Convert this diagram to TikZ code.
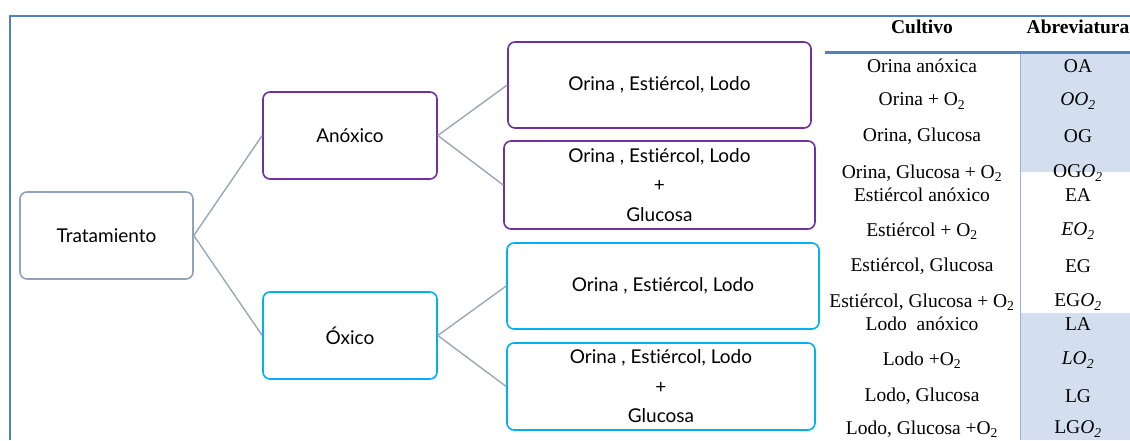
\documentclass[tikz,border=0pt]{standalone}
\usepackage{fontspec}
\setmainfont{Liberation Serif}
\newfontfamily\boxfont[Ligatures=NoCommon]{Lato}
\usetikzlibrary{positioning}

\definecolor{framecol}{HTML}{4F81BD}
\definecolor{anoxcol}{HTML}{7030A0}
\definecolor{oxicol}{HTML}{00B0F0}
\definecolor{tratcol}{HTML}{8EA4BC}
\definecolor{linkcol}{HTML}{98A8B8}
\definecolor{shadecol}{HTML}{D3DFEE}
\definecolor{gridcol}{HTML}{95B3D7}

\newcommand{\oxtwo}{O\textsubscript{2}}
\newcommand{\oxit}{\textit{O}\textsubscript{\textit{2}}}

\tikzset{
  treebox/.style={draw, rounded corners=7pt, line width=1.6pt, align=center,
    inner sep=0pt, font=\boxfont\fontsize{19}{29.5}\selectfont},
  link/.style={draw=linkcol, line width=1.4pt},
  celltext/.style={inner sep=0pt, font=\fontsize{19.5}{22}\selectfont},
  headtext/.style={inner sep=0pt, font=\bfseries\fontsize{19.5}{22}\selectfont},
}

\begin{document}
\begin{tikzpicture}[x=1pt,y=-1pt]
  \useasboundingbox (0,0) rectangle (1130,440);

  % table shading and rules
  \fill[shadecol] (1020,52) rectangle (1130,172);
  \fill[shadecol] (1020,313) rectangle (1130,440);
  \draw[gridcol, line width=1pt] (1020,52) -- (1020,440);
  \draw[framecol, line width=3pt] (825,52) -- (1130,52);
  \draw[framecol, line width=1.8pt] (10,440) -- (10,16) -- (1130,16);

  % tree
  \node[treebox, draw=tratcol, minimum width=173pt, minimum height=87pt] (trat) at (106.5,235.5) {Tratamiento};
  \node[treebox, draw=anoxcol, minimum width=174pt, minimum height=87pt] (anox) at (350,135.5) {Anóxico};
  \node[treebox, draw=oxicol, minimum width=174pt, minimum height=87pt] (oxi) at (350,335.5) {Óxico};

  \node[treebox, draw=anoxcol, minimum width=303pt, minimum height=86pt] (anoxa) at (659.5,85) {Orina , Estiércol, Lodo};
  \node[treebox, draw=anoxcol, minimum width=311pt, minimum height=88pt] (anoxb) at (659.5,185) {Orina , Estiércol, Lodo\\+\\Glucosa};
  \node[treebox, draw=oxicol, minimum width=312pt, minimum height=86pt] (oxia) at (663,286) {Orina , Estiércol, Lodo};
  \node[treebox, draw=oxicol, minimum width=308pt, minimum height=87pt] (oxib) at (661,386.5) {Orina , Estiércol, Lodo\\+\\Glucosa};

  \draw[link] (trat.east) -- (anox.west);
  \draw[link] (trat.east) -- (oxi.west);
  \draw[link] (anox.east) -- (anoxa.west);
  \draw[link] (anox.east) -- (anoxb.west);
  \draw[link] (oxi.east) -- (oxia.west);
  \draw[link] (oxi.east) -- (oxib.west);

  % table text
  \node[headtext] (cultivo) at (922,27) {Cultivo};
  \node[headtext] (abrev) at (1078,27) {Abreviatura};
  \foreach \y/\cult/\abr [count=\i] in {
      66/{Orina anóxica}/OA,
      101/{Orina + \oxtwo}/{\textit{O}\oxit},
      136/{Orina, Glucosa}/OG,
      173/{Orina, Glucosa + \oxtwo}/{OG\oxit},
      195/{Estiércol anóxico}/EA,
      231/{Estiércol + \oxtwo}/{\textit{E}\oxit},
      266/{Estiércol, Glucosa}/EG,
      302/{Estiércol, Glucosa + \oxtwo}/{EG\oxit},
      324/{Lodo\ \ anóxico}/LA,
      360/{Lodo +\oxtwo}/{\textit{L}\oxit},
      396/{Lodo, Glucosa}/LG,
      429/{Lodo, Glucosa +\oxtwo}/{LG\oxit}} {
    \node[celltext] (cult\i) at (922,\y) {\cult};
    \node[celltext] (abr\i) at (1078,\y) {\abr};
  }
\end{tikzpicture}
\end{document}
